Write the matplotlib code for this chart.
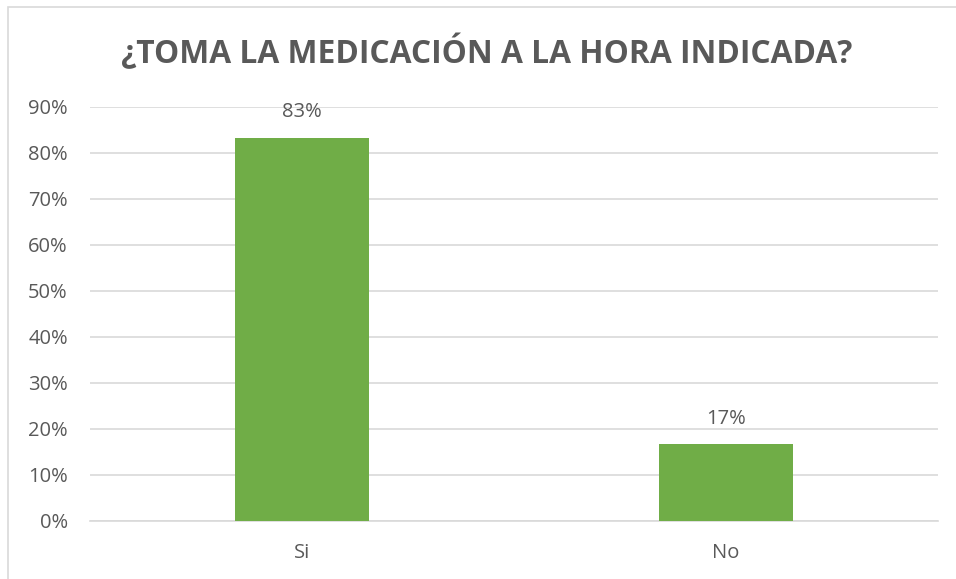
import matplotlib
matplotlib.use("Agg")
import matplotlib.pyplot as plt
from matplotlib.patches import Rectangle

categories = ["Si", "No"]
values = [0.8333, 0.1667]
value_labels = ["83%", "17%"]
yticks = [0, 0.1, 0.2, 0.3, 0.4, 0.5, 0.6, 0.7, 0.8, 0.9]
ytick_labels = ["0%", "10%", "20%", "30%", "40%", "50%", "60%", "70%", "80%", "90%"]
title = "¿TOMA LA MEDICACIÓN A LA HORA INDICADA?"

plt.rcParams['font.family'] = ['Open Sans', 'DejaVu Sans']
text_color = "#595959"
grid_color = "#D9D9D9"
bar_color = "#70AD47"

W, H = 956, 579
fig = plt.figure(figsize=(W / 100, H / 100), dpi=100)
fig.patch.set_facecolor("white")

# chart border
fig.add_artist(Rectangle((8 / W, -0.05), 1.2, 1 - 7 / H + 0.05, transform=fig.transFigure,
                         fill=False, edgecolor=grid_color, linewidth=1.2))

ax = fig.add_axes([90 / W, 1 - 521 / H, (938 - 90) / W, (521 - 107) / H])
x = list(range(len(categories)))
ax.bar(x, values, width=0.315, color=bar_color, zorder=3)
ax.set_xlim(-0.5, len(categories) - 0.5)
ax.set_ylim(0, 0.9)
ax.set_yticks(yticks)
ax.set_yticklabels(ytick_labels)
ax.set_xticks(x)
ax.set_xticklabels(categories)
ax.yaxis.grid(True, color=grid_color, linewidth=1.2, zorder=0)
ax.set_axisbelow(True)
for s in ["left", "right", "top"]:
    ax.spines[s].set_visible(False)
ax.spines["bottom"].set_color(grid_color)
ax.spines["bottom"].set_linewidth(1.2)
ax.tick_params(axis="y", length=0, pad=16, labelsize=14.5, labelcolor=text_color)
ax.tick_params(axis="x", length=0, pad=16, labelsize=14.5, labelcolor=text_color)

for xi, v, lab in zip(x, values, value_labels):
    ax.annotate(lab, (xi, v), xytext=(0, 11), textcoords="offset points",
                ha="center", va="bottom", fontsize=14.5, color=text_color)

fig.text(487 / W, 1 - 53 / H, title, ha="center", va="center", fontsize=22.9,
         fontweight="bold", color=text_color)

fig.savefig("out.png", dpi=100, facecolor="white")
